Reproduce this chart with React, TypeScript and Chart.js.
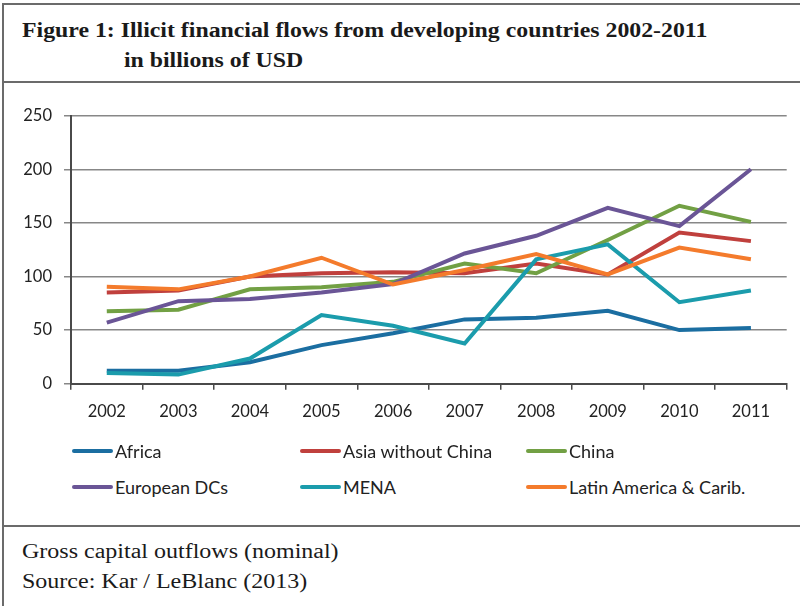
import React, { useEffect, useRef } from "react";
import { Chart, registerables } from "chart.js";

Chart.register(...registerables);

const years = ["2002", "2003", "2004", "2005", "2006", "2007", "2008", "2009", "2010", "2011"];
const seriesNames = ["Africa", "Asia without China", "China", "European DCs", "MENA", "Latin America & Carib."];
const seriesColors = ["#1b6ea1", "#c0403d", "#72a044", "#6a5596", "#1b9cac", "#f47b2c"];
const africa = [12, 12, 20, 36, 47, 60, 61.5, 68, 50, 52];
const asiaWithoutChina = [85, 87, 100, 103, 104, 103, 112, 102, 141, 133];
const china = [67.5, 69, 88, 90, 95, 112, 103, 134, 166, 151];
const europeanDCs = [57, 77, 79, 85, 93, 121.5, 138, 164, 147, 200];
const mena = [10, 8.5, 23.5, 64, 54, 37.5, 116, 130, 76, 87];
const latinAmerica = [90.5, 88, 100, 117.5, 92.5, 106, 121, 102, 127, 116];
const seriesValues = [africa, asiaWithoutChina, china, europeanDCs, mena, latinAmerica];
const yTicks = [0, 50, 100, 150, 200, 250];

const titleLine1 = "Figure 1: Illicit financial flows from developing countries 2002-2011";
const titleLine2 = "in billions of USD";
const footLine1 = "Gross capital outflows (nominal)";
const footLine2 = "Source: Kar / LeBlanc (2013)";

const SANS = "Lato, 'Noto Sans', sans-serif";
const SERIF = "'Liberation Serif', 'DejaVu Serif', serif";

function LineChart() {
  const ref = useRef<HTMLCanvasElement | null>(null);
  useEffect(() => {
    if (!ref.current) return;
    const chart = new Chart(ref.current, {
      type: "line",
      data: {
        labels: years,
        datasets: seriesNames.map((name, i) => ({
          label: name,
          data: seriesValues[i],
          borderColor: seriesColors[i],
          backgroundColor: seriesColors[i],
          borderWidth: 4,
          pointRadius: 0,
          tension: 0,
          fill: false,
          order: seriesNames.length - i,
        })),
      },
      options: {
        animation: false,
        responsive: false,
        maintainAspectRatio: false,
        layout: { padding: { top: 15.7, right: 13.3, left: 0, bottom: 16.3 } },
        plugins: { legend: { display: false }, tooltip: { enabled: false } },
        scales: {
          x: {
            type: "category",
            offset: true,
            grid: {
              offset: true,
              drawOnChartArea: false,
              drawTicks: true,
              tickLength: 6,
              color: "#4a4a4a",
              lineWidth: 1.5,
            },
            border: { color: "#4a4a4a", width: 2 },
            ticks: { font: { family: SANS, size: 16.5 }, color: "#222", padding: 12, maxRotation: 0 },
            afterFit: (scale: any) => {
              scale.height = 40;
              scale.paddingLeft = 0;
              scale.paddingRight = 0;
            },
          },
          y: {
            min: 0,
            max: 250,
            afterBuildTicks: (scale: any) => {
              scale.ticks = yTicks.map((v) => ({ value: v }));
            },
            grid: { color: "#878787", lineWidth: 1.5, tickLength: 7, drawTicks: true },
            border: { color: "#4a4a4a", width: 2 },
            ticks: { font: { family: SANS, size: 16.5 }, color: "#222", padding: 12 },
            afterFit: (scale: any) => {
              scale.width = 71;
              scale.paddingTop = 0;
              scale.paddingBottom = 0;
            },
          },
        },
      },
    });
    return () => chart.destroy();
  }, []);
  return <canvas ref={ref} width={800} height={340} style={{ width: 800, height: 340, display: "block" }} />;
}

export default function App() {
  const lineColor = "#6b6b6b";
  const legendCols = [72, 300, 526];
  const legendRows = [451, 487];
  return (
    <div style={{ position: "fixed", left: 0, top: 0, width: 800, height: 606, background: "#fff", overflow: "hidden" }}>
      {/* frame */}
      <div style={{ position: "absolute", left: 1.5, top: 3, width: 2, height: 603, background: lineColor }} />
      <div style={{ position: "absolute", left: 1.5, top: 3, width: 799, height: 2, background: lineColor }} />
      <div style={{ position: "absolute", left: 1.5, top: 80.7, width: 799, height: 2, background: lineColor }} />
      <div style={{ position: "absolute", left: 1.5, top: 524.7, width: 799, height: 2, background: lineColor }} />
      {/* title */}
      <div
        style={{
          position: "absolute",
          left: 22,
          top: 16.2,
          fontFamily: SERIF,
          fontWeight: "bold",
          fontSize: 20,
          lineHeight: "29.5px",
          color: "#1a1a1a",
          whiteSpace: "nowrap",
          transform: "scaleX(1.19)",
          transformOrigin: "0 0",
        }}
      >
        <div>{titleLine1}</div>
        <div style={{ paddingLeft: 85.7 }}>{titleLine2}</div>
      </div>
      {/* chart */}
      <div style={{ position: "absolute", left: 0, top: 100, width: 800, height: 340 }}>
        <LineChart />
      </div>
      {/* legend */}
      {seriesNames.map((name, i) => {
        const col = i % 3;
        const row = Math.floor(i / 3);
        return (
          <div
            key={name}
            style={{ position: "absolute", left: legendCols[col], top: legendRows[row] - 12, height: 24, display: "flex", alignItems: "center", whiteSpace: "nowrap" }}
          >
            <div style={{ width: 41, height: 4, borderRadius: 2, background: seriesColors[i], marginRight: 2 }} />
            <span style={{ fontFamily: SANS, fontSize: 18, color: "#222", lineHeight: "24px" }}>{name}</span>
          </div>
        );
      })}
      {/* footer */}
      <div
        style={{
          position: "absolute",
          left: 22,
          top: 535.9,
          fontFamily: SERIF,
          fontSize: 20,
          lineHeight: "30px",
          color: "#1a1a1a",
          whiteSpace: "nowrap",
          transform: "scaleX(1.2)",
          transformOrigin: "0 0",
        }}
      >
        <div>{footLine1}</div>
        <div>{footLine2}</div>
      </div>
    </div>
  );
}
